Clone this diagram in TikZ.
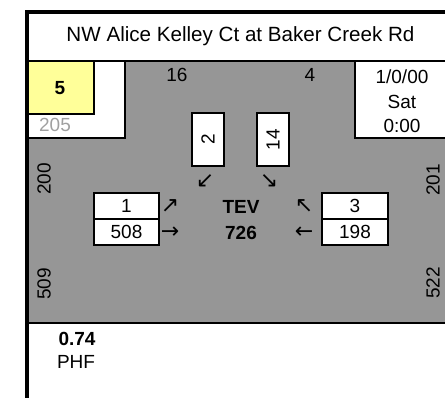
\documentclass[tikz,border=0pt]{standalone}
\usepackage{fontspec}
\setmainfont{Liberation Sans}
\newfontfamily\arrowfont{DejaVu Sans}
\definecolor{bggray}{RGB}{150,150,150}
\definecolor{boxyellow}{RGB}{255,255,153}
\definecolor{txtgray}{RGB}{160,160,160}
\begin{document}
\begin{tikzpicture}[x=1pt,y=-1pt,
  lbl/.style={inner sep=0pt,font=\fontsize{19}{21}\selectfont},
  blbl/.style={lbl,font=\fontsize{19}{21}\selectfont\bfseries},
  arr/.style={inner sep=0pt,font=\arrowfont\fontsize{22}{24}\selectfont},
  cell/.style={draw=black,line width=2pt,fill=white},
  edge/.style={line width=2pt,line cap=rect}]
\useasboundingbox (0,0) rectangle (445,398);
% gray area
\fill[bggray] (125,61) -- (355,61) -- (355,138) -- (445,138) -- (445,323) -- (27,323) -- (27,138) -- (125,138) -- cycle;
% yellow box
\fill[boxyellow] (27,61) rectangle (94,114);
\draw[edge] (94,61) -- (94,114) -- (27,114);
% inner lines
\draw[edge] (27,61) -- (445,61);
\draw[edge] (125,61) -- (125,138) -- (27,138);
\draw[edge] (355,61) -- (355,138) -- (445,138);
\draw[edge] (27,323) -- (445,323);
% outer frame
\draw[line width=3.5pt] (27,398) -- (27,12) -- (445,12);
% title
\node[lbl,font=\fontsize{20.6}{22}\selectfont] (title) at (240.5,36) {NW Alice Kelley Ct at Baker Creek Rd};
% top-left
\node[blbl] (num) at (60,88) {5};
\node[lbl,text=txtgray] (tot) at (55,125) {205};
% top numbers
\node[lbl] (n16) at (177,75) {16};
\node[lbl] (n4) at (310,75) {4};
% date box
\node[lbl] (date) at (402,77) {1/0/00};
\node[lbl] (day) at (402,102) {Sat};
\node[lbl] (time) at (402,126) {0:00};
% vertical boxes
\draw[cell] (192,113) rectangle (224,166);
\node[lbl,rotate=90] (v2) at (208,139.5) {2};
\draw[cell] (257,113) rectangle (289,166);
\node[lbl,rotate=90] (v14) at (273,139.5) {14};
% arrows
\node[arr] (a1) at (205,181) {↙};
\node[arr] (a2) at (269,181) {↘};
\node[arr] (a3) at (170,206) {↗};
\node[arr] (a4) at (170,233) {→};
\node[arr] (a5) at (304,206) {↖};
\node[arr] (a6) at (304,233) {←};
% left box
\draw[cell] (94,193) rectangle (159,219);
\draw[cell] (94,219) rectangle (159,245);
\node[lbl] (l1) at (126.5,206) {1};
\node[lbl] (l2) at (126.5,232) {508};
% right box
\draw[cell] (322,193) rectangle (388,219);
\draw[cell] (322,219) rectangle (388,245);
\node[lbl] (r1) at (355,206) {3};
\node[lbl] (r2) at (355,232) {198};
% center
\node[blbl] (tev) at (241,207) {TEV};
\node[blbl] (tevv) at (241,233) {726};
% side numbers
\node[lbl,rotate=90] (s200) at (44,179) {200};
\node[lbl,rotate=90] (s201) at (433,180) {201};
\node[lbl,rotate=90] (s509) at (44,284) {509};
\node[lbl,rotate=90] (s522) at (433,283) {522};
% PHF
\node[blbl] (phf) at (77,339) {0.74};
\node[lbl] (phft) at (76,362) {PHF};
\end{tikzpicture}
\end{document}
